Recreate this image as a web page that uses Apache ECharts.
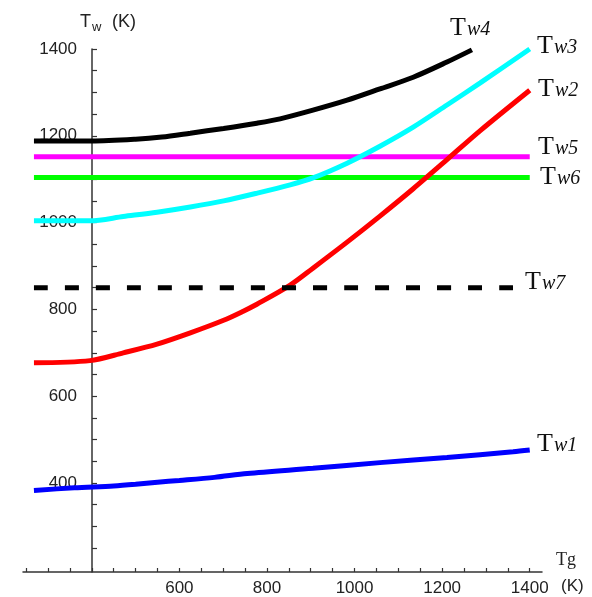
<!DOCTYPE html>
<html>
<head>
<meta charset="utf-8">
<script src="https://cdn.jsdelivr.net/npm/echarts@6/dist/echarts.min.js"></script>
<style>html,body{margin:0;padding:0;background:#fff;}#c{width:592px;height:597px;}</style>
</head>
<body>
<div id="c"></div>
<script>
// ---- data (Tg in K, Tw in K) ----
const tw1Tg = [268, 360, 450, 500, 550, 600, 680, 755, 905, 1058, 1211, 1362, 1400];
const tw1   = [383, 389, 393, 397, 402, 406, 413, 422, 434, 447, 459, 472, 476];

const tw2Tg = [268, 396, 472, 549, 625, 701, 746, 777, 853, 905, 983, 1058, 1134, 1211, 1287, 1400];
const tw2   = [677, 682, 700, 720, 746, 775, 796, 812, 856, 895, 955, 1015, 1078, 1145, 1212, 1305];

const tw3Tg = [268, 396, 472, 549, 625, 701, 778, 853, 905, 983, 1058, 1134, 1211, 1287, 1400];
const tw3   = [1004, 1004, 1014, 1024, 1036, 1050, 1068, 1087, 1103, 1137, 1176, 1220, 1271, 1322, 1400];

const tw4Tg = [268, 400, 500, 560, 625, 701, 777, 830, 905, 983, 1058, 1134, 1211, 1268];
const tw4   = [1188, 1188, 1192, 1197, 1206, 1217, 1229, 1239, 1259, 1282, 1308, 1335, 1370, 1398];

const tw5Tg = [268, 1400];
const tw5   = [1152, 1152];

const tw6Tg = [268, 1400];
const tw6   = [1104, 1104];

const tw7Tg = [268, 1365];
const tw7   = [850, 850];

const xTicks  = [250,300,350,400,450,500,550,600,650,700,750,800,850,900,950,1000,1050,1100,1150,1200,1250,1300,1350,1400];
const xLabels = [600, 800, 1000, 1200, 1400];
const yTicks  = [250,300,350,400,450,500,550,600,650,700,750,800,850,900,950,1000,1050,1100,1150,1200,1250,1300,1350,1400];
const yLabels = [400, 600, 800, 1000, 1200, 1400];

const seriesNames = ['Tw1','Tw2','Tw3','Tw4','Tw5','Tw6','Tw7'];
const seriesSub   = ['w1','w2','w3','w4','w5','w6','w7'];

function zip(a, b) { return a.map((v, i) => [v, b[i]]); }

const chart = echarts.init(document.getElementById('c'), null, {renderer: 'canvas'});

function lineSeries(name, xs, ys, color, extra) {
  return Object.assign({
    name: name, type: 'line', data: zip(xs, ys), showSymbol: false, symbol: 'none',
    smooth: 0.3,
    lineStyle: {color: color, width: 5, cap: 'butt'}, itemStyle: {color: color},
    silent: true, animation: false
  }, extra || {});
}

// label positions (T left x, cap-centre y)
const labelPos = {
  Tw1: [537, 444], Tw2: [538, 89], Tw3: [537, 46], Tw4: [450, 28],
  Tw5: [538, 147], Tw6: [540, 177], Tw7: [525, 282]
};
const graphics = [];
seriesNames.forEach((n, i) => {
  const p = labelPos[n];
  graphics.push({type: 'text', x: p[0], y: p[1], style: {text: 'T', font: '26px "Liberation Serif"', fill: '#111', verticalAlign: 'middle', align: 'left'}});
  graphics.push({type: 'text', x: p[0] + 17, y: p[1] + 2, style: {text: seriesSub[i], font: 'italic 20px "Liberation Serif"', fill: '#111', verticalAlign: 'middle', align: 'left'}});
});
// axis titles
graphics.push({type: 'text', x: 80, y: 22, style: {text: 'T', font: '18px "Liberation Sans"', fill: '#222', verticalAlign: 'middle'}});
graphics.push({type: 'text', x: 92, y: 27, style: {text: 'w', font: '13px "Liberation Sans"', fill: '#222', verticalAlign: 'middle'}});
graphics.push({type: 'text', x: 112, y: 22, style: {text: '(K)', font: '18px "Liberation Sans"', fill: '#222', verticalAlign: 'middle'}});
graphics.push({type: 'text', x: 556, y: 560, style: {text: 'Tg', font: '18px "Liberation Serif"', fill: '#222', verticalAlign: 'middle'}});
graphics.push({type: 'text', x: 561, y: 586, style: {text: '(K)', font: '17px "Liberation Sans"', fill: '#222', verticalAlign: 'middle'}});

const axisColor = '#333';
const plain = v => String(v);
const option = {
  animation: false,
  backgroundColor: '#fff',
  grid: {left: 23, top: 49, width: 519, height: 523, containLabel: false},
  xAxis: {
    type: 'value', min: 243, max: 1428,
    axisLine: {show: true, onZero: false, lineStyle: {color: axisColor, width: 1.5}},
    axisTick: {show: true, inside: true, length: 4, customValues: xTicks, lineStyle: {color: axisColor, width: 1.2}},
    axisLabel: {show: true, customValues: xLabels, formatter: plain, margin: 8, color: '#222', fontSize: 17, fontFamily: 'Liberation Sans'},
    splitLine: {show: false}
  },
  yAxis: {
    type: 'value', min: 195, max: 1400, position: 'left', offset: -69,
    axisLine: {show: true, onZero: false, lineStyle: {color: axisColor, width: 1.5}},
    axisTick: {show: true, inside: true, length: 5, customValues: yTicks, lineStyle: {color: axisColor, width: 1.2}},
    axisLabel: {show: true, customValues: yLabels, formatter: plain, margin: 15, color: '#222', fontSize: 17, fontFamily: 'Liberation Sans'},
    splitLine: {show: false}
  },
  series: [
    lineSeries('Tw1', tw1Tg, tw1, '#0000ff'),
    lineSeries('Tw4', tw4Tg, tw4, '#000000'),
    lineSeries('Tw5', tw5Tg, tw5, '#ff00ff'),
    lineSeries('Tw6', tw6Tg, tw6, '#00ff00'),
    lineSeries('Tw3', tw3Tg, tw3, '#00ffff'),
    lineSeries('Tw2', tw2Tg, tw2, '#ff0000'),
    lineSeries('Tw7', tw7Tg, tw7, '#000000', {lineStyle: {color: '#000', width: 5, type: [14, 17], cap: 'butt'}})
  ],
  graphic: graphics
};
chart.setOption(option);
</script>
</body>
</html>
